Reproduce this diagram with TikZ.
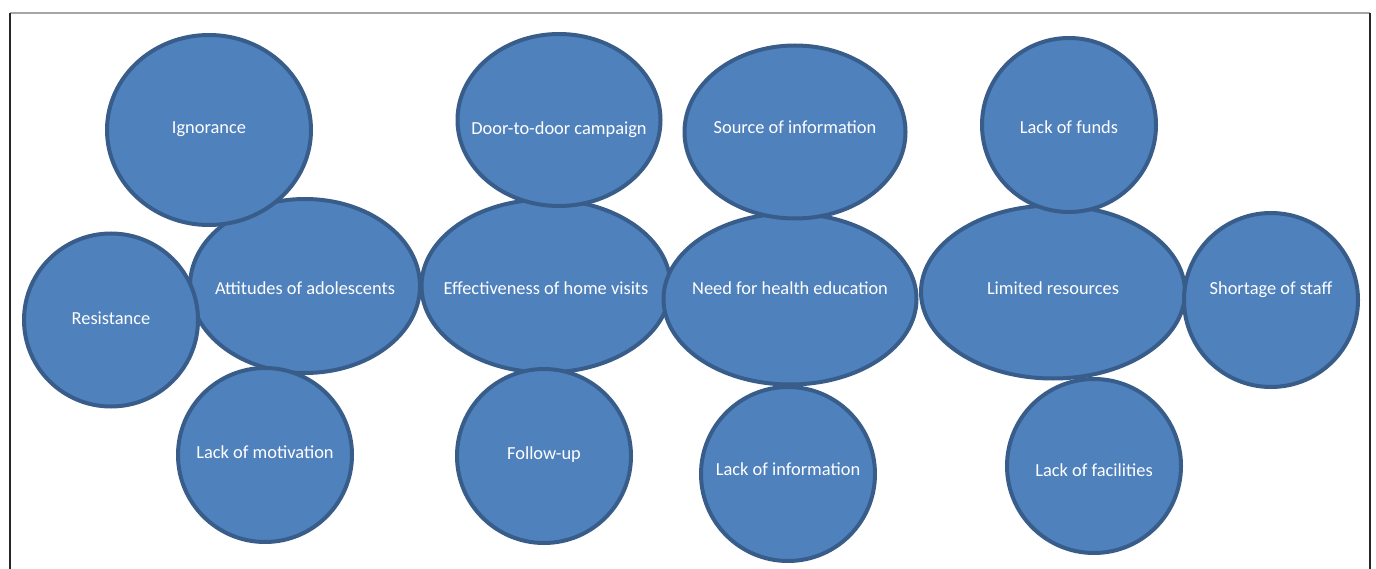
\documentclass[tikz,border=0pt]{standalone}
\usepackage{fontspec}
\setmainfont{Carlito}
\usetikzlibrary{shapes.geometric}
\definecolor{bubblefill}{HTML}{4F81BD}
\definecolor{bubbleline}{HTML}{385D8A}
\begin{document}
\begin{tikzpicture}[x=1pt,y=-1pt]
        \tikzstyle{bubble}=[draw=bubbleline,line width=4pt,ellipse,fill=bubblefill,inner sep=0pt]
        \tikzstyle{every label}=[text=white,inner sep=0pt,font=\fontsize{18.4}{22}\selectfont]

        \useasboundingbox (0,0) rectangle (1376,569);
        \draw[black!35,line width=1.2pt] (10,13) -- (1370,13);
        \draw[black!85,line width=1.2pt] (10,569) -- (10,13);
        \draw[black!85,line width=1.2pt] (1370,13) -- (1370,569);

        \draw (305,286) node[bubble,minimum width=230pt,minimum height=174pt,label={[yshift=-2pt]center:Attitudes of adolescents}] (att) {};
        \draw (546,286) node[bubble,minimum width=249pt,minimum height=173pt,label={[yshift=-2pt]center:Effectiveness of home visits}] (eff) {};
        \draw (790,299) node[bubble,minimum width=253pt,minimum height=171pt,label={[yshift=11pt]center:Need for health education}] (need) {};
        \draw (1053,292) node[bubble,minimum width=264pt,minimum height=173pt,label={[yshift=4pt]center:Limited resources}] (lim) {};

        \draw (209,130) node[bubble,minimum width=204pt,minimum height=190pt,label={[yshift=1pt]center:Ignorance}] (ign) {};
        \draw (559,120) node[bubble,minimum width=203pt,minimum height=172pt,label={[yshift=-10pt]center:Door-to-door campaign}] (door) {};
        \draw (795,132) node[bubble,minimum width=221pt,minimum height=173pt,label={[yshift=5pt]center:Source of information}] (src) {};
        \draw (1069,125) node[bubble,minimum width=174pt,minimum height=174pt,label={[yshift=-2pt]center:Lack of funds}] (funds) {};
        \draw (111,320) node[bubble,minimum width=174pt,minimum height=173pt,label={[yshift=2pt]center:Resistance}] (res) {};
        \draw (1271,300) node[bubble,minimum width=174pt,minimum height=174pt,label={[yshift=10pt]center:Shortage of staff}] (staff) {};
        \draw (265,455) node[bubble,minimum width=174pt,minimum height=174pt,label={[yshift=3pt]center:Lack of motivation}] (mot) {};
        \draw (544,456) node[bubble,minimum width=174pt,minimum height=174pt,label={[yshift=1pt]center:Follow-up}] (fol) {};
        \draw (788,474) node[bubble,minimum width=174pt,minimum height=174pt,label={[yshift=5pt]center:Lack of information}] (info) {};
        \draw (1094,466) node[bubble,minimum width=174pt,minimum height=174pt,label={[yshift=-4pt]center:Lack of facilities}] (fac) {};

    \end{tikzpicture}
\end{document}
